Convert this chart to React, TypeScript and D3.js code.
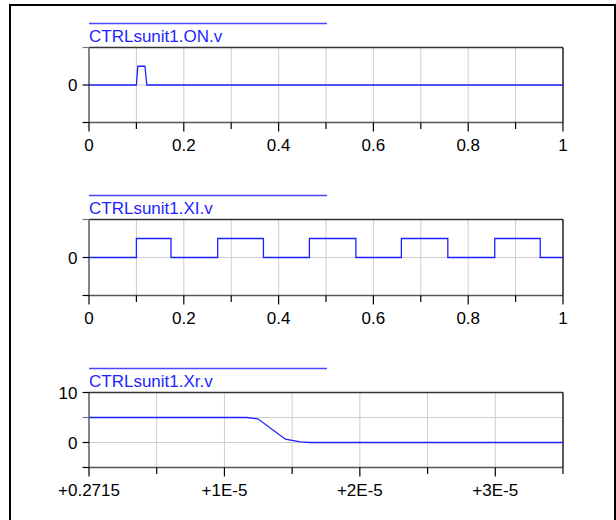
import React from "react";
import { scaleLinear, line, curveStepAfter, curveLinear, format } from "d3";

// CTRLsunit1.ON.v — short pulse near t = 0.1
const onTime = [0, 0.1, 0.103, 0.118, 0.122, 1];
const onValue = [0, 0, 1, 1, 0, 0];

// CTRLsunit1.XI.v — square wave (step after)
const xiTime = [0, 0.1, 0.173, 0.2715, 0.368, 0.465, 0.563, 0.659, 0.757, 0.856, 0.952, 1];
const xiValue = [0, 1, 0, 1, 0, 1, 0, 1, 0, 1, 0, 0];

// CTRLsunit1.Xr.v — offset from 0.2715 in units of 1E-5
const xrOffset = [0, 1.165, 1.25, 1.45, 1.56, 1.63, 3.5];
const xrValue = [5, 5, 4.7, 0.65, 0.12, 0, 0];

const timeTicks = [0, 0.1, 0.2, 0.3, 0.4, 0.5, 0.6, 0.7, 0.8, 0.9, 1];
const timeLabelled = [0, 0.2, 0.4, 0.6, 0.8, 1];
const xrTicks = [0, 0.5, 1, 1.5, 2, 2.5, 3, 3.5];
const xrLabelled = [0, 1, 2, 3];
const xrTickLabels = ["+0.2715", "+1E-5", "+2E-5", "+3E-5"];

const BLUE = "#1f1fff";
const GRID = "#cdcdcd";
const FONT = "'Liberation Sans', Arial, sans-serif";
const FS = 17;
const left = 89;
const right = 563;

type Panel = {
  title: string;
  top: number;
  bottom: number;
  xDomain: [number, number];
  yDomain: [number, number];
  xs: number[];
  ys: number[];
  step: boolean;
  xTicks: number[];
  xLabelled: number[];
  xLabel: (v: number) => string;
  yTicks: number[];
  yLabelled: number[];
  yGrid: number[];
};

const fmt = format("~g");

const panels: Panel[] = [
  {
    title: "CTRLsunit1.ON.v",
    top: 47.5,
    bottom: 122.5,
    xDomain: [0, 1],
    yDomain: [-2, 2],
    xs: onTime,
    ys: onValue,
    step: false,
    xTicks: timeTicks,
    xLabelled: timeLabelled,
    xLabel: (v) => fmt(v),
    yTicks: [-2, 0, 2],
    yLabelled: [0],
    yGrid: [0],
  },
  {
    title: "CTRLsunit1.XI.v",
    top: 219.5,
    bottom: 295.5,
    xDomain: [0, 1],
    yDomain: [-2, 2],
    xs: xiTime,
    ys: xiValue,
    step: true,
    xTicks: timeTicks,
    xLabelled: timeLabelled,
    xLabel: (v) => fmt(v),
    yTicks: [-2, 0, 2],
    yLabelled: [0],
    yGrid: [0],
  },
  {
    title: "CTRLsunit1.Xr.v",
    top: 392.5,
    bottom: 467.5,
    xDomain: [0, 3.5],
    yDomain: [-5, 10],
    xs: xrOffset,
    ys: xrValue,
    step: false,
    xTicks: xrTicks,
    xLabelled: xrLabelled,
    xLabel: (v) => xrTickLabels[xrLabelled.indexOf(v)],
    yTicks: [-5, 0, 5, 10],
    yLabelled: [0, 10],
    yGrid: [0, 5],
  },
];

function PanelChart({ p }: { p: Panel }) {
  const x = scaleLinear().domain(p.xDomain).range([left, right]);
  const y = scaleLinear().domain(p.yDomain).range([p.bottom, p.top]);
  const pts = p.xs.map((d, i) => [d, p.ys[i]] as [number, number]);
  const path = line<[number, number]>()
    .x((d) => x(d[0]))
    .y((d) => y(d[1]))
    .curve(p.step ? curveStepAfter : curveLinear)(pts);

  const [x0, x1] = p.xDomain;
  return (
    <g fontFamily={FONT}>
      {/* title */}
      <line x1={left} x2={327} y1={p.top - 24} y2={p.top - 24} stroke="#4a4aff" strokeWidth={1.3} />
      <text x={left} y={p.top - 5.5} fill={BLUE} fontSize={FS}>
        {p.title}
      </text>

      {/* grid */}
      {p.xTicks
        .filter((v) => v !== x0 && v !== x1)
        .map((v) => (
          <line key={"gx" + v} x1={x(v)} x2={x(v)} y1={p.top} y2={p.bottom} stroke={GRID} />
        ))}
      {p.yGrid.map((v) => (
        <line key={"gy" + v} x1={left} x2={right} y1={y(v)} y2={y(v)} stroke={GRID} />
      ))}

      {/* frame */}
      <line x1={left} x2={right} y1={p.top} y2={p.top} stroke="#333" strokeWidth={1.3} />
      <line x1={left} x2={right} y1={p.bottom} y2={p.bottom} stroke="#555" strokeWidth={1.6} />
      <line x1={left} x2={left} y1={p.top} y2={p.bottom} stroke="#666" strokeWidth={1.6} />
      <line x1={right} x2={right} y1={p.top} y2={p.bottom} stroke="#000" strokeWidth={1.3} />

      {/* x ticks */}
      {p.xTicks.map((v) => {
        const major = p.xLabelled.includes(v);
        return (
          <line
            key={"tx" + v}
            x1={x(v)}
            x2={x(v)}
            y1={p.bottom}
            y2={p.bottom + (major ? 9 : 6.5)}
            stroke="#000"
            strokeWidth={1.2}
          />
        );
      })}
      {p.xLabelled.map((v) => (
        <text key={"lx" + v} x={x(v)} y={p.bottom + 28.5} textAnchor="middle" fontSize={FS} fill="#000">
          {p.xLabel(v)}
        </text>
      ))}

      {/* y ticks */}
      {p.yTicks.map((v) => (
        <line
          key={"ty" + v}
          x1={left - 6.5}
          x2={left}
          y1={y(v)}
          y2={y(v)}
          stroke={p.yLabelled.includes(v) || v === p.yDomain[0] ? "#000" : "#777"}
          strokeWidth={1.2}
        />
      ))}
      {p.yLabelled.map((v) => (
        <text key={"ly" + v} x={77.5} y={y(v) + 6.3} textAnchor="end" fontSize={FS} fill="#000">
          {fmt(v)}
        </text>
      ))}

      {/* series */}
      <path d={path ?? ""} fill="none" stroke={BLUE} strokeWidth={1.3} />
    </g>
  );
}

export default function App() {
  return (
    <svg
      width={616}
      height={520}
      style={{ position: "fixed", left: 0, top: 0, background: "#fff" }}
    >
      <rect x={0} y={0} width={616} height={520} fill="#fff" />
      <rect x={10} y={5} width={605} height={530} fill="none" stroke="#000" strokeWidth={2} />
      {panels.map((p) => (
        <PanelChart key={p.title} p={p} />
      ))}
    </svg>
  );
}
